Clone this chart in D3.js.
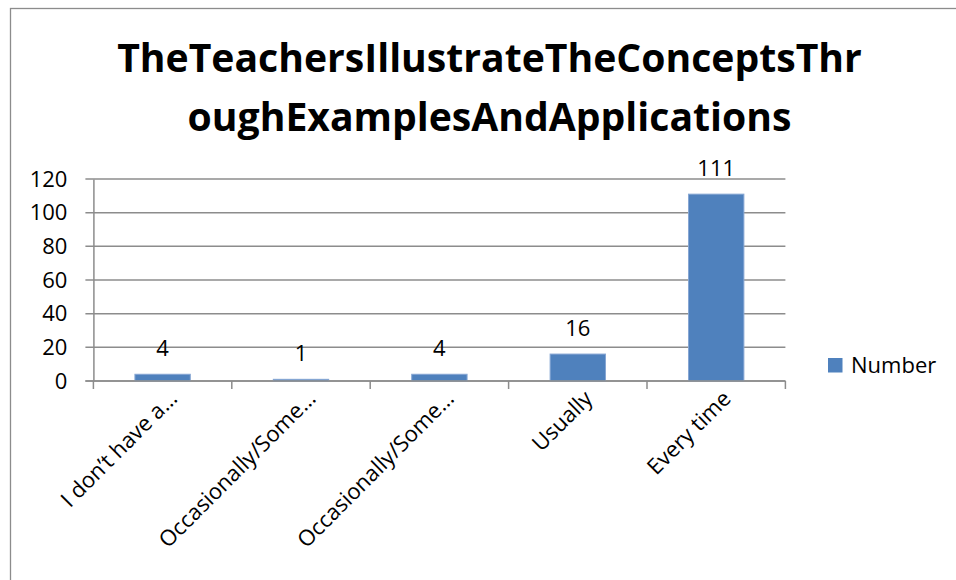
<!DOCTYPE html>
<html>
<head>
<meta charset="utf-8">
<script src="https://cdn.jsdelivr.net/npm/d3@7"></script>
<style>
    body { margin: 0; background: #fff; }
    text { font-family: "Open Sans", "DejaVu Sans", sans-serif; fill: #000; }
</style>
</head>
<body>
<div id="chart"></div>
<script>
// Chart data
var titleLines = ["TheTeachersIllustrateTheConceptsThr", "oughExamplesAndApplications"];
var categories = ["I don\u2019t have a\u2026", "Occasionally/Some\u2026", "Occasionally/Some\u2026", "Usually", "Every time"];
var values = [4, 1, 4, 16, 111];
var yTicks = [0, 20, 40, 60, 80, 100, 120];
var seriesName = "Number";

var svg = d3.select("#chart").append("svg").attr("width", 956).attr("height", 580);

// Outer chart border (right and bottom edges fall outside the picture)
svg.append("rect")
    .attr("x", 10.5).attr("y", 8.5)
    .attr("width", 1000).attr("height", 1000)
    .attr("fill", "none")
    .attr("stroke", "#8c8c8c")
    .attr("stroke-width", 1.3);

// Plot area
var plot = {left: 93.4, right: 785.4, top: 179, bottom: 381};

var xScale = d3.scaleBand()
    .domain(d3.range(categories.length))
    .range([plot.left, plot.right])
    .paddingInner(0.6)
    .paddingOuter(0.3);

var yScale = d3.scaleLinear()
    .domain([0, 120])
    .range([plot.bottom, plot.top]);

// Title, sized so the first line spans the same width as the original
var title = svg.append("g").attr("class", "title");
var titleText = title.selectAll("text")
    .data(titleLines)
    .enter()
    .append("text")
    .attr("x", 489.5)
    .attr("y", function(d, i) { return 72 + i * 59; })
    .attr("text-anchor", "middle")
    .style("font-weight", "bold")
    .style("font-size", "40px")
    .text(function(d) { return d; });
var w = titleText.node().getComputedTextLength();
titleText.style("font-size", (40 * 745 / w) + "px");

// Gridlines (extend left past the axis as tick marks)
svg.append("g")
    .selectAll("line")
    .data(yTicks)
    .enter()
    .append("line")
    .attr("x1", plot.left - 8)
    .attr("x2", plot.right)
    .attr("y1", function(d) { return yScale(d); })
    .attr("y2", function(d) { return yScale(d); })
    .attr("stroke", "#8c8c8c")
    .attr("stroke-width", 1.5);

// Y axis labels
var yAxis = d3.axisLeft(yScale).tickValues(yTicks).tickSize(0).tickPadding(26);
var yAxisG = svg.append("g")
    .attr("transform", "translate(" + plot.left + ",0)")
    .call(yAxis);
yAxisG.select(".domain").attr("stroke", "#8c8c8c").attr("stroke-width", 1.5);
yAxisG.selectAll("text")
    .style("font-size", "22px")
    .style("font-family", "'Open Sans', sans-serif")
    .attr("fill", "#000");

// Bars
svg.append("g")
    .selectAll("rect")
    .data(values)
    .enter()
    .append("rect")
    .attr("x", function(d, i) { return xScale(i); })
    .attr("y", function(d) { return yScale(d); })
    .attr("width", xScale.bandwidth())
    .attr("height", function(d) { return yScale(0) - yScale(d); })
    .attr("fill", "#4f81bd")
    .attr("stroke", "#86a6d3")
    .attr("stroke-width", 1);

// X axis line and ticks at band boundaries
var xTickPos = d3.range(categories.length + 1).map(function(i) {
    return plot.left + i * xScale.step();
});
svg.append("line")
    .attr("x1", plot.left - 8).attr("x2", plot.right)
    .attr("y1", plot.bottom).attr("y2", plot.bottom)
    .attr("stroke", "#8c8c8c")
    .attr("stroke-width", 1.5);
svg.append("g")
    .selectAll("line")
    .data(xTickPos)
    .enter()
    .append("line")
    .attr("x1", function(d) { return d; })
    .attr("x2", function(d) { return d; })
    .attr("y1", plot.bottom)
    .attr("y2", plot.bottom + 8)
    .attr("stroke", "#8c8c8c")
    .attr("stroke-width", 1.5);

// Rotated category labels
svg.append("g")
    .selectAll("text")
    .data(categories)
    .enter()
    .append("text")
    .attr("transform", function(d, i) {
        var cx = xScale(i) + xScale.bandwidth() / 2;
        return "translate(" + (cx + 16) + "," + 400 + ") rotate(-45)";
    })
    .attr("text-anchor", "end")
    .style("font-size", "22px")
    .text(function(d) { return d; });

// Data labels
svg.append("g")
    .selectAll("text")
    .data(values)
    .enter()
    .append("text")
    .attr("x", function(d, i) { return xScale(i) + xScale.bandwidth() / 2; })
    .attr("y", function(d) { return yScale(d) - 18; })
    .attr("text-anchor", "middle")
    .style("font-size", "22px")
    .text(function(d) { return d; });

// Legend
var legend = svg.append("g").attr("transform", "translate(828,358)");
legend.append("rect")
    .attr("width", 14.5).attr("height", 14.5)
    .attr("fill", "#4f81bd");
legend.append("text")
    .attr("x", 23)
    .attr("y", 15)
    .style("font-size", "22px")
    .text(seriesName);
</script>
</body>
</html>
